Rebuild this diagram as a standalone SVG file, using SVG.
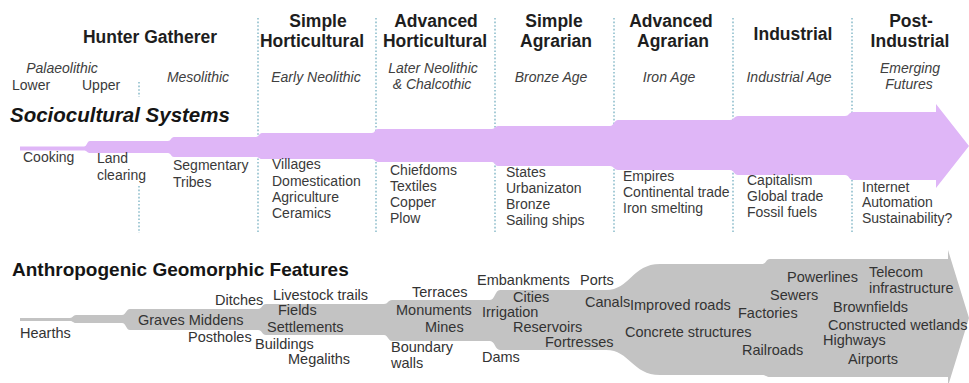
<svg xmlns="http://www.w3.org/2000/svg" width="969" height="383" viewBox="0 0 969 383">
<style>
.h{font-family:"Liberation Sans",Arial,sans-serif;font-weight:bold;font-size:17.5px;fill:#1e1e1e;text-anchor:middle}
.s{font-family:"Liberation Sans",Arial,sans-serif;font-style:italic;font-size:14px;fill:#404040;text-anchor:middle}
.r{font-family:"Liberation Sans",Arial,sans-serif;font-size:14px;fill:#3a3a3a}
.g{font-family:"Liberation Sans",Arial,sans-serif;font-size:14.5px;fill:#333}
.t{font-family:"Liberation Sans",Arial,sans-serif;font-weight:bold;fill:#151515}
.d{stroke:#8fbfcc;stroke-width:1.6;stroke-dasharray:1.6 2;fill:none}
</style>
<rect width="969" height="383" fill="#fff"/>
<g id="dividers">
<line class="d" x1="258" y1="18" x2="258" y2="233"/>
<line class="d" x1="376" y1="18" x2="376" y2="233"/>
<line class="d" x1="495" y1="18" x2="495" y2="233"/>
<line class="d" x1="614" y1="18" x2="614" y2="233"/>
<line class="d" x1="733" y1="18" x2="733" y2="233"/>
<line class="d" x1="852" y1="18" x2="852" y2="233"/>
<line class="d" x1="139" y1="82" x2="139" y2="97"/>
<line class="d" x1="139" y1="186" x2="139" y2="233"/>
</g>
<g id="sociocultural-band">
<path fill="#dfb6f7" d="M20,146.5 L84,146.5 C87,146.5 87,141 90,141 L168,141 C171,141 171,137 174,137 L256,137 C259,137 259,133 262,133 L372,133 C375,133 375,129 378,129 L492,129 C495,129 495,126 498,126 L610,126 C614,126 614,120 618,120 L730,120 C734,120 734,116 738,116 L845,116 C849,116 849,112 853,112 L936,112 L936,104 L969,146 L936,188 L936,180 L853,180 C849,180 849,175 845,175 L738,175 C734,175 734,170 730,170 L618,170 C614,170 614,166 610,166 L498,166 C495,166 495,162 492,162 L378,162 C375,162 375,159 372,159 L262,159 C259,159 259,157 256,157 L174,157 C171,157 171,153 168,153 L90,153 C87,153 87,150.5 84,150.5 L20,150.5 Z"/>
</g>
<g id="geomorphic-band">
<path fill="#c3c3c3" d="M20,318 L70,318 C73,318 73,315 76,315 L122,315 C126,315 126,309 130,309 L258,309 C262,309 262,304 266,304 L384,304 C388,304 388,300 392,300 L490,300 C495,300 495,290 500,290 L606,290 C630,290 632,264 660,264 L762,264 C766,264 766,259 770,259 L948,259 L948,250 L969,318 L948,386 L948,377 L770,377 C766,377 766,375 762,375 L660,375 C632,375 630,350 606,350 L500,350 C495,350 495,341 490,341 L392,341 C388,341 388,335 384,335 L266,335 C262,335 262,330 258,330 L130,330 C126,330 126,323 122,323 L76,323 C73,323 73,321 70,321 L20,321 Z"/>
</g>
<g id="hunter-gatherer">
<text class="h" x="150" y="43" font-size="18">Hunter Gatherer</text>
<text class="s" x="62" y="73">Palaeolithic</text>
<text class="r" x="12" y="90">Lower</text>
<text class="r" x="82" y="90">Upper</text>
<text class="s" x="198" y="82">Mesolithic</text>
<text class="r" x="23" y="162">Cooking</text>
<text class="r" x="97" y="163">Land</text>
<text class="r" x="97" y="180">clearing</text>
<text class="r" x="173" y="170">Segmentary</text>
<text class="r" x="173" y="187">Tribes</text>
</g>
<g id="simple-horticultural">
<text class="h" x="318" y="27">Simple</text>
<text class="h" x="312" y="47">Horticultural</text>
<text class="s" x="316" y="82">Early Neolithic</text>
<text class="r" x="272" y="169">Villages</text>
<text class="r" x="272" y="186">Domestication</text>
<text class="r" x="272" y="202">Agriculture</text>
<text class="r" x="272" y="218">Ceramics</text>
</g>
<g id="advanced-horticultural">
<text class="h" x="436" y="27">Advanced</text>
<text class="h" x="435" y="47">Horticultural</text>
<text class="s" x="433" y="73">Later Neolithic</text>
<text class="s" x="432" y="89">&amp; Chalcothic</text>
<text class="r" x="390" y="175">Chiefdoms</text>
<text class="r" x="390" y="191">Textiles</text>
<text class="r" x="390" y="207">Copper</text>
<text class="r" x="390" y="223">Plow</text>
</g>
<g id="simple-agrarian">
<text class="h" x="554" y="27">Simple</text>
<text class="h" x="556" y="47">Agrarian</text>
<text class="s" x="551" y="82">Bronze Age</text>
<text class="r" x="506" y="177">States</text>
<text class="r" x="506" y="193">Urbanizaton</text>
<text class="r" x="506" y="209">Bronze</text>
<text class="r" x="506" y="225">Sailing ships</text>
</g>
<g id="advanced-agrarian">
<text class="h" x="671" y="27">Advanced</text>
<text class="h" x="673" y="47">Agrarian</text>
<text class="s" x="669" y="82">Iron Age</text>
<text class="r" x="623" y="181">Empires</text>
<text class="r" x="623" y="197">Continental trade</text>
<text class="r" x="623" y="213">Iron smelting</text>
</g>
<g id="industrial">
<text class="h" x="793" y="40">Industrial</text>
<text class="s" x="789" y="82">Industrial Age</text>
<text class="r" x="747" y="185">Capitalism</text>
<text class="r" x="747" y="201">Global trade</text>
<text class="r" x="747" y="217">Fossil fuels</text>
</g>
<g id="post-industrial">
<text class="h" x="911" y="27">Post-</text>
<text class="h" x="910" y="47">Industrial</text>
<text class="s" x="910" y="73">Emerging</text>
<text class="s" x="909" y="89">Futures</text>
<text class="r" x="862" y="192">Internet</text>
<text class="r" x="862" y="207">Automation</text>
<text class="r" x="862" y="223">Sustainability?</text>
</g>
<g id="titles">
<text class="t" x="10" y="122" font-size="20.5" font-style="italic">Sociocultural Systems</text>
<text class="t" x="12" y="276" font-size="19">Anthropogenic Geomorphic Features</text>
</g>
<g id="geomorphic-features">
<text class="g" x="20" y="338">Hearths</text>
<text class="g" x="215" y="305">Ditches</text>
<text class="g" x="138" y="325">Graves Middens</text>
<text class="g" x="188" y="342">Postholes</text>
<text class="g" x="273" y="300">Livestock trails</text>
<text class="g" x="278" y="315">Fields</text>
<text class="g" x="267" y="332">Settlements</text>
<text class="g" x="255" y="349">Buildings</text>
<text class="g" x="288" y="364">Megaliths</text>
<text class="g" x="412" y="297">Terraces</text>
<text class="g" x="396" y="315">Monuments</text>
<text class="g" x="425" y="332">Mines</text>
<text class="g" x="391" y="352">Boundary</text>
<text class="g" x="391" y="368">walls</text>
<text class="g" x="477" y="285">Embankments</text>
<text class="g" x="580" y="285">Ports</text>
<text class="g" x="513" y="302">Cities</text>
<text class="g" x="482" y="316.5">Irrigation</text>
<text class="g" x="585" y="307">Canals</text>
<text class="g" x="513" y="332">Reservoirs</text>
<text class="g" x="545" y="347">Fortresses</text>
<text class="g" x="482" y="362">Dams</text>
<text class="g" x="630" y="310">Improved roads</text>
<text class="g" x="625" y="337">Concrete structures</text>
<text class="g" x="787" y="282">Powerlines</text>
<text class="g" x="869" y="277">Telecom</text>
<text class="g" x="869" y="293">infrastructure</text>
<text class="g" x="770" y="300">Sewers</text>
<text class="g" x="738" y="318">Factories</text>
<text class="g" x="833" y="312">Brownfields</text>
<text class="g" x="828" y="330">Constructed wetlands</text>
<text class="g" x="742" y="355">Railroads</text>
<text class="g" x="823" y="345">Highways</text>
<text class="g" x="848" y="364">Airports</text>
</g>
</svg>
